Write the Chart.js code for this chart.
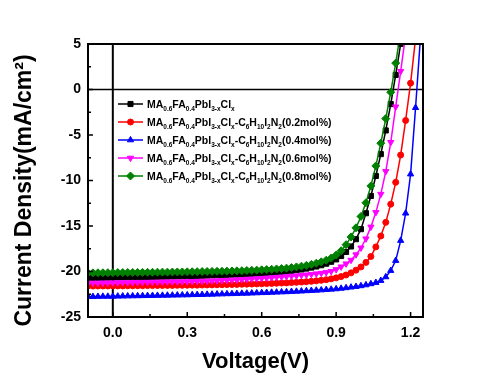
<!DOCTYPE html>
<html><head><meta charset="utf-8">
<script src="https://cdn.jsdelivr.net/npm/chart.js"></script>
<style>html,body{margin:0;padding:0;background:#fff}</style>
</head><body>
<canvas id="c" width="492" height="382"></canvas>
<script>
// ---- data ----
const voltages = [-0.1,-0.08,-0.06,-0.04,-0.02,0,0.02,0.04,0.06,0.08,
  0.1,0.12,0.14,0.16,0.18,0.2,0.22,0.24,0.26,0.28,
  0.3,0.32,0.34,0.36,0.38,0.4,0.42,0.44,0.46,0.48,
  0.5,0.52,0.54,0.56,0.58,0.6,0.62,0.64,0.66,0.68,
  0.7,0.72,0.74,0.76,0.78,0.8,0.82,0.84,0.86,0.88,
  0.9,0.92,0.94,0.96,0.98,1,1.02,1.04,1.06,1.08,
  1.1,1.12,1.14,1.16,1.18,1.2,1.22,1.24];

const jRef = [-20.72,-20.71,-20.70,-20.69,-20.68,-20.67,-20.66,-20.65,-20.64,-20.63,
  -20.62,-20.61,-20.60,-20.59,-20.58,-20.57,-20.56,-20.55,-20.54,-20.53,
  -20.51,-20.50,-20.48,-20.47,-20.45,-20.43,-20.41,-20.39,-20.37,-20.35,
  -20.34,-20.32,-20.29,-20.26,-20.23,-20.20,-20.17,-20.13,-20.09,-20.04,
  -19.99,-19.93,-19.86,-19.78,-19.68,-19.57,-19.45,-19.31,-19.14,-18.93,
  -18.67,-18.30,-17.85,-17.25,-16.45,-15.35,-13.60,-11.70,-9.50,-7.10,
  -4.50,-1.60,1.60,5.00,8.60];

const j02 = [-21.60,-21.60,-21.59,-21.59,-21.59,-21.58,-21.58,-21.58,-21.57,-21.57,
  -21.56,-21.56,-21.55,-21.55,-21.54,-21.54,-21.53,-21.53,-21.52,-21.52,
  -21.51,-21.50,-21.50,-21.49,-21.48,-21.47,-21.46,-21.45,-21.44,-21.43,
  -21.42,-21.40,-21.39,-21.38,-21.36,-21.35,-21.33,-21.31,-21.29,-21.27,
  -21.25,-21.22,-21.19,-21.16,-21.12,-21.08,-21.03,-20.97,-20.90,-20.81,
  -20.70,-20.56,-20.38,-20.15,-19.85,-19.50,-19.00,-18.35,-17.30,-16.10,
  -14.60,-12.60,-10.20,-7.20,-3.40,0.70,5.60];

const j04 = [-22.76,-22.76,-22.75,-22.74,-22.74,-22.73,-22.72,-22.71,-22.70,-22.69,
  -22.68,-22.67,-22.66,-22.65,-22.64,-22.63,-22.62,-22.61,-22.60,-22.59,
  -22.58,-22.56,-22.55,-22.54,-22.52,-22.51,-22.49,-22.48,-22.46,-22.45,
  -22.43,-22.41,-22.40,-22.38,-22.36,-22.34,-22.32,-22.30,-22.28,-22.26,
  -22.24,-22.21,-22.19,-22.16,-22.13,-22.10,-22.07,-22.04,-22.00,-21.96,
  -21.92,-21.86,-21.80,-21.73,-21.66,-21.58,-21.48,-21.36,-21.22,-21.00,
  -20.60,-19.90,-18.80,-16.60,-13.60,-9.30,-2.00,5.80];

const j06 = [-21.27,-21.26,-21.26,-21.25,-21.24,-21.23,-21.22,-21.21,-21.21,-21.20,
  -21.19,-21.18,-21.17,-21.16,-21.15,-21.14,-21.13,-21.12,-21.12,-21.11,
  -21.10,-21.08,-21.07,-21.05,-21.04,-21.02,-21.00,-20.98,-20.95,-20.93,
  -20.90,-20.87,-20.84,-20.81,-20.78,-20.75,-20.71,-20.67,-20.63,-20.59,
  -20.55,-20.50,-20.46,-20.41,-20.36,-20.30,-20.24,-20.18,-20.10,-19.98,
  -19.78,-19.48,-19.15,-18.75,-18.15,-17.40,-16.40,-15.10,-13.50,-11.50,
  -9.00,-5.80,-1.90,2.00,6.00];

const j08 = [-20.15,-20.15,-20.14,-20.14,-20.13,-20.13,-20.12,-20.12,-20.11,-20.11,
  -20.10,-20.10,-20.09,-20.09,-20.08,-20.07,-20.07,-20.06,-20.05,-20.05,
  -20.04,-20.03,-20.02,-20.01,-20.00,-19.99,-19.98,-19.97,-19.96,-19.94,
  -19.93,-19.91,-19.89,-19.87,-19.85,-19.82,-19.79,-19.76,-19.72,-19.68,
  -19.63,-19.57,-19.50,-19.42,-19.33,-19.22,-19.09,-18.94,-18.76,-18.52,
  -18.20,-17.72,-17.05,-16.20,-15.20,-13.95,-12.45,-10.60,-8.40,-5.90,
  -3.20,-0.30,2.90,6.30];

const xMajorTicks = [0, 0.3, 0.6, 0.9, 1.2];
const xMinorTicks = [0.15, 0.45, 0.75, 1.05];
const yMajorTicks = [-25, -20, -15, -10, -5, 0, 5];
const yMinorTicks = [-22.5, -17.5, -12.5, -7.5, -2.5, 2.5];

const xTitle = 'Voltage(V)';
const yTitle = 'Current Density(mA/cm²)';

// legend text pieces: [text, isSubscript]
const baseFormula = [['MA',0],['0.6',1],['FA',0],['0.4',1],['PbI',0],['3-x',1],['Cl',0],['x',1]];
const additiveFormula = [['-C',0],['6',1],['H',0],['10',1],['I',0],['2',1],['N',0],['2',1]];
const additiveMol = ['0.2', '0.4', '0.6', '0.8'];

const seriesValues = [jRef, j02, j04, j06, j08];
const seriesColors = ['#000000', '#ff0000', '#0000ff', '#ff00ff', '#008000'];
const seriesMarkers = ['rect', 'circle', 'triangle', 'triangle', 'rectRot'];
const seriesRotation = [0, 0, 0, 180, 0];
const seriesRadius = [3.6, 3, 3.6, 3.6, 4];
const seriesOrder = [4, 3, 2, 1, 0];

const legendLabels = [baseFormula].concat(additiveMol.map(m => baseFormula.concat(additiveFormula, [['(' + m + 'mol%)', 0]])));

// ---- chart ----
const FONT = "'Liberation Sans', Arial, Helvetica, sans-serif";
Chart.defaults.font.family = FONT;
Chart.defaults.color = '#000';

function drawMarker(ctx, style, rot, x, y, r) {
  ctx.save();
  ctx.translate(x, y);
  ctx.rotate(rot * Math.PI / 180);
  ctx.beginPath();
  if (style === 'circle') {
    ctx.arc(0, 0, r, 0, Math.PI * 2);
  } else if (style === 'rect') {
    const s = r * Math.SQRT1_2;
    ctx.rect(-s, -s, 2 * s, 2 * s);
  } else if (style === 'rectRot') {
    ctx.moveTo(0, -r); ctx.lineTo(r, 0); ctx.lineTo(0, r); ctx.lineTo(-r, 0); ctx.closePath();
  } else {
    for (let k = 0; k < 3; k++) {
      const a = k * 2 * Math.PI / 3;
      const px = Math.sin(a) * r, py = -Math.cos(a) * r;
      if (k === 0) ctx.moveTo(px, py); else ctx.lineTo(px, py);
    }
    ctx.closePath();
  }
  ctx.fill();
  ctx.stroke();
  ctx.restore();
}

const decor = {
  id: 'decor',
  beforeDatasetsDraw(chart) {
    const {ctx, chartArea: a, scales: {x, y}} = chart;
    ctx.save();
    ctx.strokeStyle = '#000';
    ctx.lineWidth = 2;
    const x0 = x.getPixelForValue(0);
    ctx.beginPath(); ctx.moveTo(x0, a.top); ctx.lineTo(x0, a.bottom); ctx.stroke();
    ctx.lineWidth = 1.4;
    const y0 = y.getPixelForValue(0);
    ctx.beginPath(); ctx.moveTo(a.left, y0); ctx.lineTo(a.right, y0); ctx.stroke();
    ctx.restore();
  },
  afterDatasetsDraw(chart) {
    const {ctx, chartArea: a, scales: {x, y}} = chart;
    ctx.save();
    ctx.strokeStyle = '#000';
    ctx.lineWidth = 1.5;
    ctx.beginPath();
    xMajorTicks.forEach(v => { const p = x.getPixelForValue(v); ctx.moveTo(p, a.bottom); ctx.lineTo(p, a.bottom - 5); });
    xMinorTicks.forEach(v => { const p = x.getPixelForValue(v); ctx.moveTo(p, a.bottom); ctx.lineTo(p, a.bottom - 3); });
    yMajorTicks.forEach(v => { const p = y.getPixelForValue(v); ctx.moveTo(a.left, p); ctx.lineTo(a.left + 5, p); });
    yMinorTicks.forEach(v => { const p = y.getPixelForValue(v); ctx.moveTo(a.left, p); ctx.lineTo(a.left + 3, p); });
    ctx.stroke();
    ctx.lineWidth = 2;
    ctx.strokeRect(a.left, a.top, a.right - a.left, a.bottom - a.top);

    // y axis title
    ctx.save();
    ctx.fillStyle = '#000';
    ctx.font = 'bold 23px ' + FONT;
    ctx.textAlign = 'center';
    ctx.textBaseline = 'middle';
    ctx.translate(25, (a.top + a.bottom) / 2 + 10);
    ctx.rotate(-Math.PI / 2);
    ctx.fillText(yTitle, 0, 0);
    ctx.restore();

    // legend
    const lx0 = a.left + 30, lx1 = a.left + 55, tx = a.left + 59;
    legendLabels.forEach((parts, i) => {
      const ly = a.top + 60 + i * 18;
      const c = seriesColors[i];
      ctx.strokeStyle = c; ctx.fillStyle = c; ctx.lineWidth = 1.5;
      ctx.beginPath(); ctx.moveTo(lx0, ly); ctx.lineTo(lx1, ly); ctx.stroke();
      ctx.lineWidth = 1;
      drawMarker(ctx, seriesMarkers[i], seriesRotation[i], (lx0 + lx1) / 2, ly, seriesRadius[i]);
      ctx.fillStyle = '#000';
      ctx.textBaseline = 'alphabetic';
      ctx.textAlign = 'left';
      let px = tx;
      parts.forEach(([t, sub]) => {
        ctx.font = sub ? 'bold 6.5px ' + FONT : 'bold 10.5px ' + FONT;
        ctx.fillText(t, px, sub ? ly + 6.5 : ly + 4);
        px += ctx.measureText(t).width;
      });
    });
    ctx.restore();
  }
};

const datasets = seriesValues.map((vals, i) => ({
  data: vals.map((j, k) => ({x: voltages[k], y: j})),
  borderColor: seriesColors[i],
  backgroundColor: seriesColors[i],
  borderWidth: 1.5,
  pointStyle: seriesMarkers[i],
  pointRotation: seriesRotation[i],
  pointRadius: seriesRadius[i],
  pointBorderWidth: 1,
  pointBackgroundColor: seriesColors[i],
  pointBorderColor: seriesColors[i],
  order: seriesOrder[i],
  tension: 0,
  clip: 0
}));

new Chart(document.getElementById('c'), {
  type: 'line',
  data: {datasets},
  plugins: [decor],
  options: {
    responsive: false,
    animation: false,
    devicePixelRatio: 1,
    layout: {padding: {left: 0, top: 44, right: 69, bottom: 0}},
    plugins: {legend: {display: false}, tooltip: {enabled: false}},
    scales: {
      x: {
        type: 'linear', min: -0.1, max: 1.25,
        afterBuildTicks: s => { s.ticks = xMajorTicks.map(v => ({value: v})); },
        afterFit: s => { s.height = 65; },
        grid: {display: false, drawTicks: false},
        border: {display: false},
        ticks: {callback: v => Number(v).toFixed(1), font: {size: 14, weight: 'bold'}, color: '#000', padding: 8, maxRotation: 0, autoSkip: false},
        title: {display: true, text: xTitle, font: {size: 22, weight: 'bold'}, color: '#000', padding: {top: 0, bottom: 7}}
      },
      y: {
        type: 'linear', min: -25, max: 5,
        afterBuildTicks: s => { s.ticks = yMajorTicks.map(v => ({value: v})); },
        afterFit: s => { s.width = 88; },
        grid: {display: false, drawTicks: false},
        border: {display: false},
        ticks: {callback: v => String(v), font: {size: 14, weight: 'bold'}, color: '#000', padding: 7, autoSkip: false},
        title: {display: false}
      }
    }
  }
});
</script>
</body></html>
